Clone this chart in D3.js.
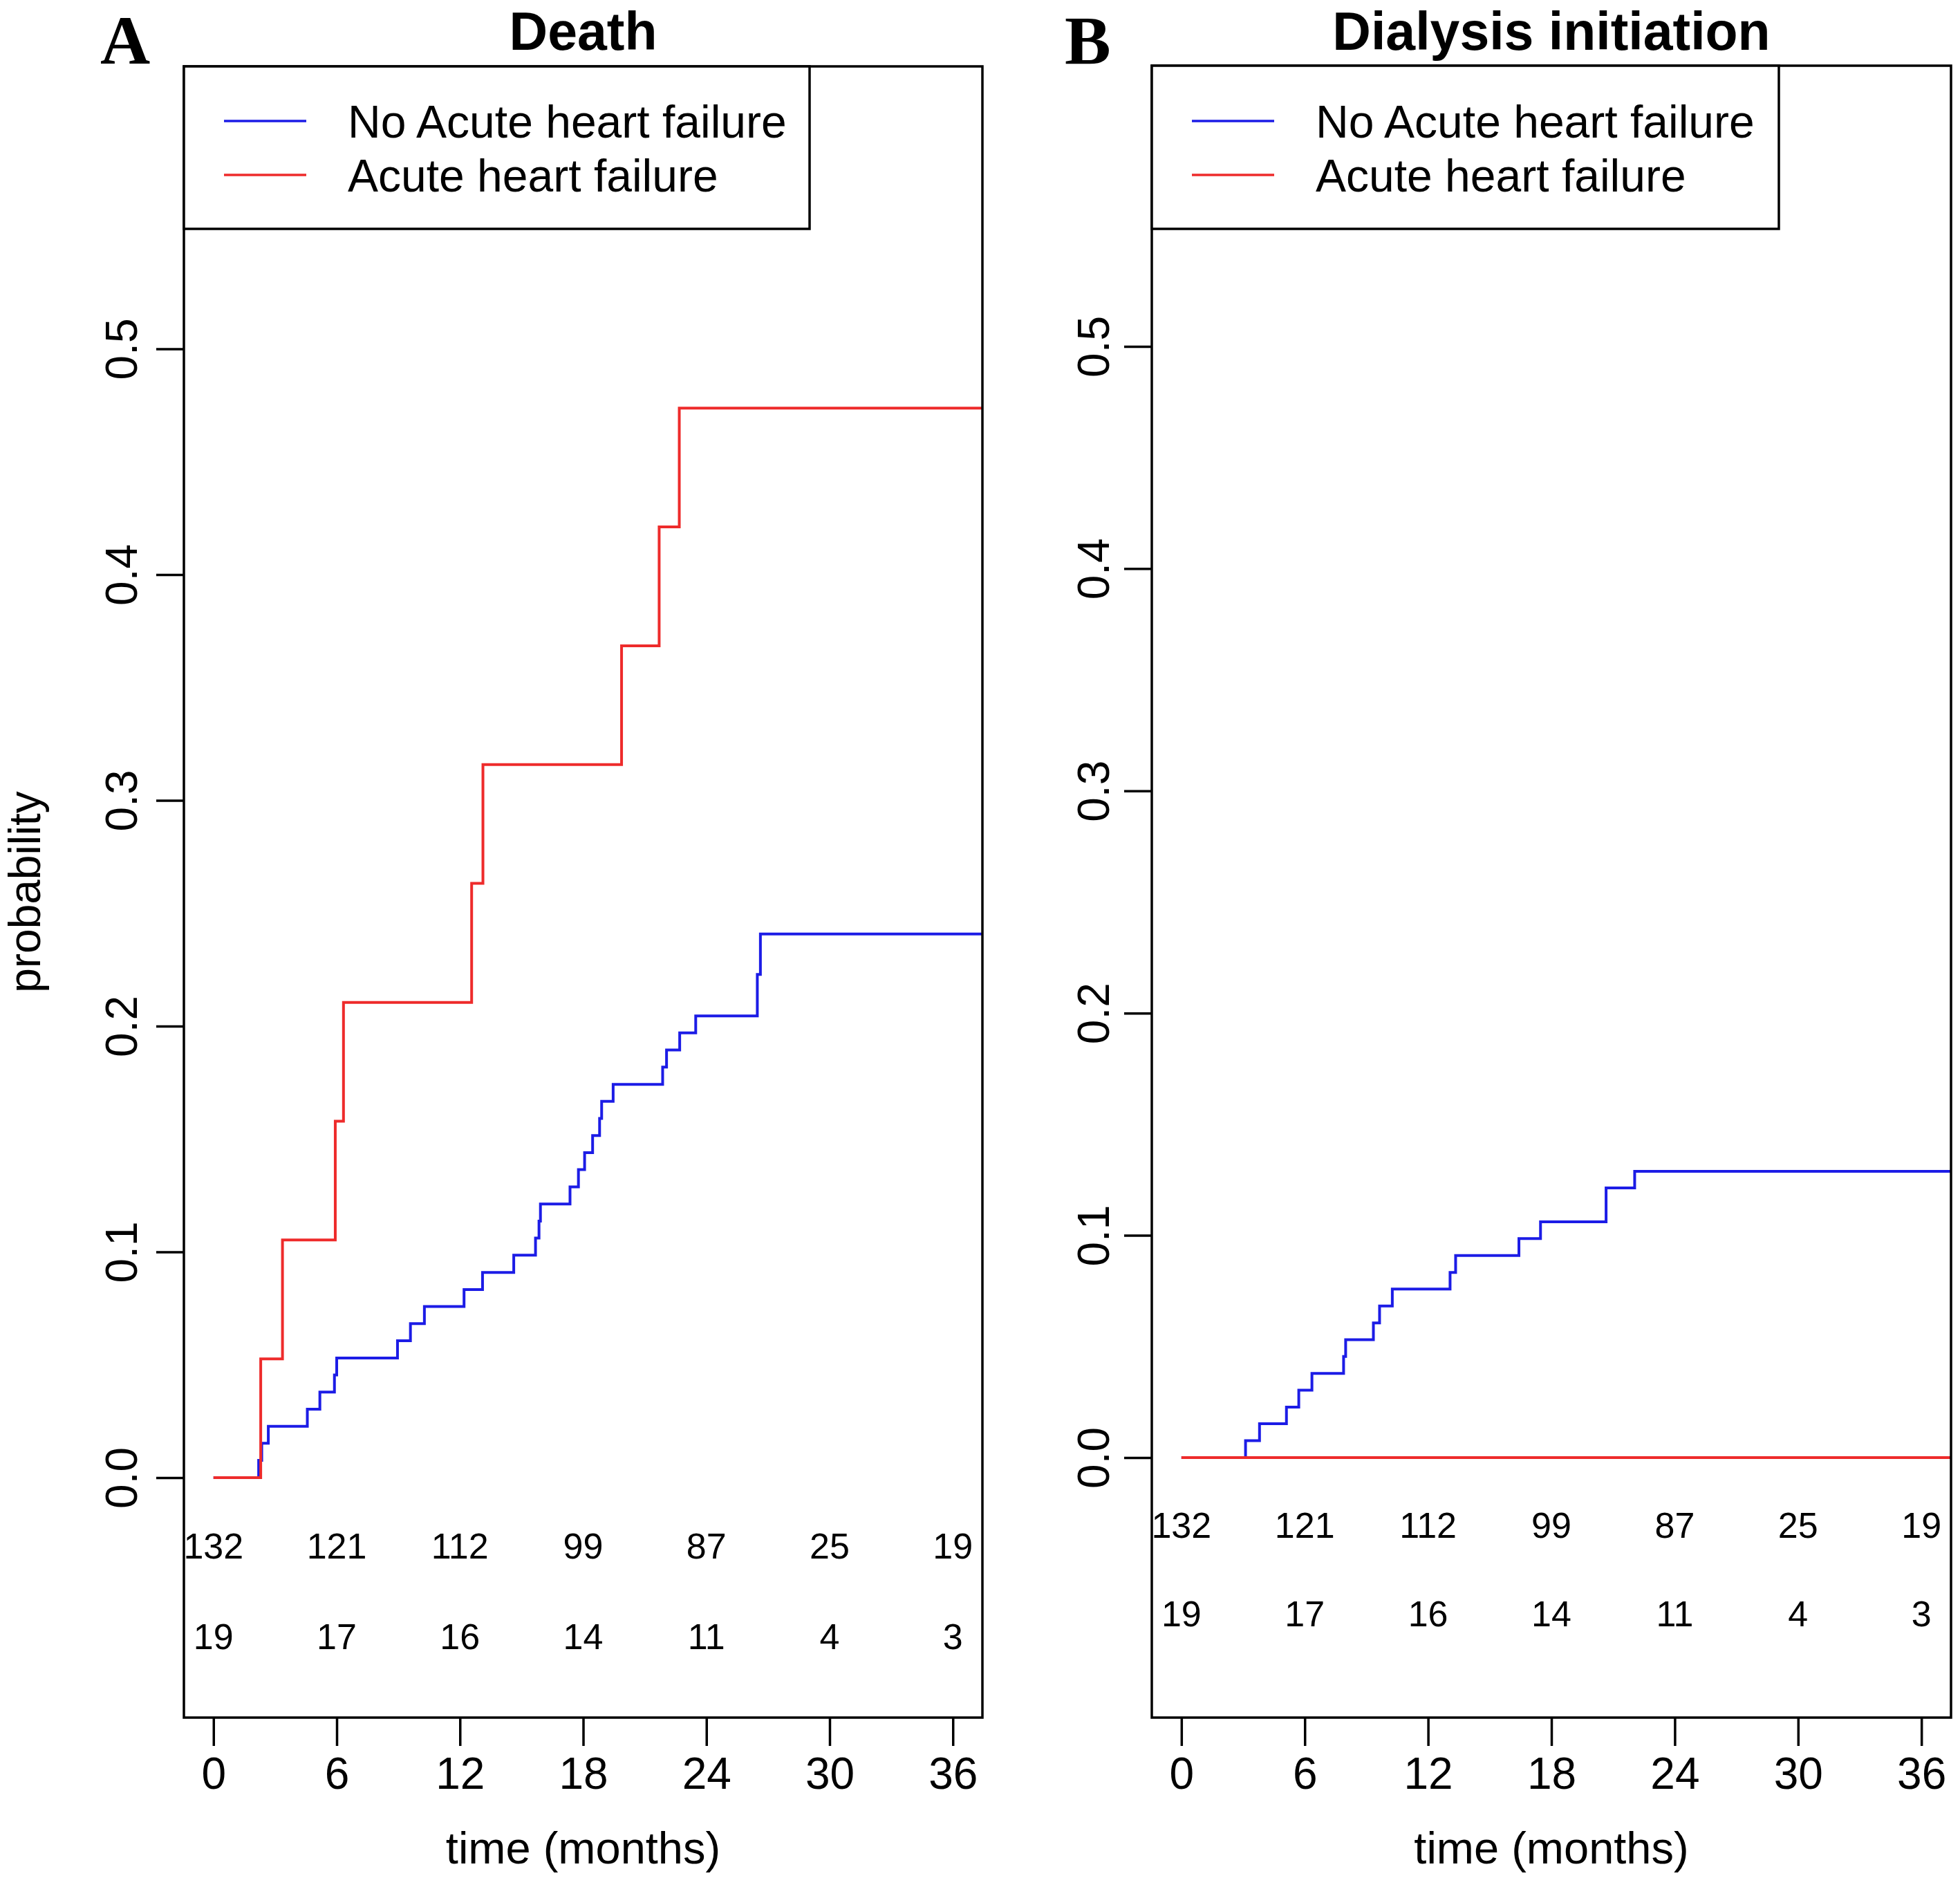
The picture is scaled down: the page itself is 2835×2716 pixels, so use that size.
<!DOCTYPE html>
<html>
<head>
<meta charset="utf-8">
<script src="https://cdn.jsdelivr.net/npm/d3@7"></script>
<style>
	body { margin: 0; background: #fff; }
	svg { display: block; }
	text { font-family: "Liberation Sans", Arial, sans-serif; fill: #000; }
</style>
</head>
<body>
<div id="chart"></div>
<script>
const month_ticks = [0, 6, 12, 18, 24, 30, 36]
const prob_ticks = [0, 0.1, 0.2, 0.3, 0.4, 0.5]
const group_names = ['No Acute heart failure', 'Acute heart failure']
const group_colors = ['#1c1ce6', '#ee2b2b']

// death, cumulative incidence after each step
const death_no_ahf_time = [2.2, 2.35, 2.67, 4.57, 5.18, 5.89, 6.0, 8.96, 9.59, 10.27, 12.2, 13.1, 14.62, 15.68, 15.85, 15.92, 17.36, 17.77, 18.07, 18.46, 18.8, 18.9, 19.46, 21.87, 22.06, 22.7, 23.48, 26.48, 26.63]
const death_no_ahf_prob = [0.0076, 0.0152, 0.0227, 0.0303, 0.0379, 0.0455, 0.053, 0.0606, 0.0682, 0.0758, 0.0833, 0.0909, 0.0985, 0.1061, 0.1136, 0.1212, 0.1288, 0.1364, 0.1439, 0.1515, 0.1591, 0.1667, 0.1742, 0.1818, 0.1894, 0.197, 0.2045, 0.2229, 0.2408]
const death_ahf_time = [2.3, 3.36, 5.93, 6.33, 12.57, 13.12, 19.87, 21.7, 22.68]
const death_ahf_prob = [0.0526, 0.1053, 0.1579, 0.2105, 0.2632, 0.3158, 0.3684, 0.4211, 0.4737]

// dialysis initiation
const dial_no_ahf_time = [3.12, 3.8, 5.11, 5.71, 6.35, 7.89, 7.99, 9.34, 9.64, 10.26, 13.07, 13.34, 16.42, 17.47, 20.66, 22.05]
const dial_no_ahf_prob = [0.0076, 0.0152, 0.0227, 0.0303, 0.0379, 0.0455, 0.053, 0.0606, 0.0682, 0.0758, 0.0833, 0.0909, 0.0985, 0.1061, 0.1213, 0.1288]
const dial_ahf_time = []
const dial_ahf_prob = []

// numbers at risk at each month tick
const risk_no_ahf = [132, 121, 112, 99, 87, 25, 19]
const risk_ahf = [19, 17, 16, 14, 11, 4, 3]

const panels = [
	{letter: 'A', title: 'Death', ylab: 'probability',
	 box: {left: 266, right: 1421, top: 96, bottom: 2484}, ydom: [-0.1063, 0.6251], label_gap: 68,
	 legend_right: 1171, letter_x: 145,
	 series: [[death_no_ahf_time, death_no_ahf_prob], [death_ahf_time, death_ahf_prob]]},
	{letter: 'B', title: 'Dialysis initiation', ylab: null,
	 box: {left: 1666, right: 2822, top: 95, bottom: 2484}, ydom: [-0.117, 0.6263], label_gap: 62,
	 legend_right: 2573, letter_x: 1540,
	 series: [[dial_no_ahf_time, dial_no_ahf_prob], [dial_ahf_time, dial_ahf_prob]]}
]
const risk_rows = [risk_no_ahf, risk_ahf]
const risk_row_y = [-0.036, -0.076]

const svg = d3.select('#chart').append('svg')
	.attr('width', 2835)
	.attr('height', 2716)

svg.append('rect').attr('width', 2835).attr('height', 2716).attr('fill', '#fff')

function draw_panel(p, idx) {
	const b = p.box
	const x = d3.scaleLinear().domain([-1.44, 37.44]).range([b.left, b.right])
	const y = d3.scaleLinear().domain(p.ydom).range([b.bottom, b.top])
	const g = svg.append('g')

	g.append('clipPath').attr('id', 'clip' + idx)
		.append('rect')
		.attr('x', b.left).attr('y', b.top)
		.attr('width', b.right - b.left).attr('height', b.bottom - b.top)

	// curves
	const line = d3.line()
		.x(d => x(d[0]))
		.y(d => y(d[1]))
		.curve(d3.curveStepAfter)
	p.series.forEach((s, i) => {
		const pts = [[0, 0]].concat(s[0].map((t, j) => [t, s[1][j]]))
		pts.push([x.domain()[1], pts[pts.length - 1][1]])
		g.append('path')
			.attr('d', line(pts))
			.attr('fill', 'none')
			.attr('stroke', group_colors[i])
			.attr('stroke-width', 4)
			.attr('clip-path', 'url(#clip' + idx + ')')
	})

	// numbers at risk
	risk_rows.forEach((row, r) => {
		g.selectAll(null)
			.data(row)
			.enter().append('text')
			.attr('x', (d, i) => x(month_ticks[i]))
			.attr('y', y(risk_row_y[r]))
			.attr('text-anchor', 'middle')
			.style('font-size', '52px')
			.text(d => d)
	})

	// axes
	const x_axis = d3.axisBottom(x)
		.tickValues(month_ticks)
		.tickSize(41)
		.tickSizeOuter(0)
		.tickPadding(17)
	const gx = g.append('g')
		.attr('transform', 'translate(0,' + b.bottom + ')')
		.call(x_axis)
	gx.select('.domain').remove()
	gx.selectAll('line').attr('stroke', '#000').attr('stroke-width', 3.5)
	gx.selectAll('text')
		.style('font-family', '"Liberation Sans", Arial, sans-serif')
		.style('font-size', '64px')
		.attr('fill', '#000')

	const y_axis = d3.axisLeft(y)
		.tickValues(prob_ticks)
		.tickFormat(d3.format('.1f'))
		.tickSize(40)
		.tickSizeOuter(0)
	const gy = g.append('g')
		.attr('transform', 'translate(' + b.left + ',0)')
		.call(y_axis)
	gy.select('.domain').remove()
	gy.selectAll('line').attr('stroke', '#000').attr('stroke-width', 3.5)
	gy.selectAll('text')
		.attr('x', null).attr('y', null).attr('dy', null)
		.attr('transform', 'translate(' + (-p.label_gap) + ',0) rotate(-90)')
		.attr('text-anchor', 'middle')
		.style('font-family', '"Liberation Sans", Arial, sans-serif')
		.style('font-size', '64px')
		.attr('fill', '#000')

	// box
	g.append('rect')
		.attr('x', b.left).attr('y', b.top)
		.attr('width', b.right - b.left).attr('height', b.bottom - b.top)
		.attr('fill', 'none')
		.attr('stroke', '#000')
		.attr('stroke-width', 3.5)

	// legend
	const lg = g.append('g')
	lg.append('rect')
		.attr('x', b.left).attr('y', b.top)
		.attr('width', p.legend_right - b.left).attr('height', 331 - b.top)
		.attr('fill', '#fff')
		.attr('stroke', '#000')
		.attr('stroke-width', 3.5)
	const items = lg.selectAll('.item')
		.data(group_names)
		.enter().append('g')
		.attr('transform', (d, i) => 'translate(' + b.left + ',' + (175 + i * 78) + ')')
	items.append('line')
		.attr('x1', 58).attr('x2', 177)
		.attr('stroke', (d, i) => group_colors[i])
		.attr('stroke-width', 3.5)
	items.append('text')
		.attr('x', 237)
		.attr('y', 24)
		.style('font-size', '66px')
		.text(d => d)

	// titles
	g.append('text')
		.attr('x', (b.left + b.right) / 2)
		.attr('y', 72)
		.attr('text-anchor', 'middle')
		.style('font-size', '77px')
		.style('font-weight', 'bold')
		.text(p.title)
	g.append('text')
		.attr('x', p.letter_x)
		.attr('y', 92)
		.style('font-family', '"Liberation Serif", "Times New Roman", serif')
		.style('font-size', '100px')
		.style('font-weight', 'bold')
		.text(p.letter)
	g.append('text')
		.attr('x', (b.left + b.right) / 2)
		.attr('y', 2695)
		.attr('text-anchor', 'middle')
		.style('font-size', '65px')
		.text('time (months)')
	if (p.ylab) {
		g.append('text')
			.attr('transform', 'translate(58,' + ((b.top + b.bottom) / 2) + ') rotate(-90)')
			.attr('text-anchor', 'middle')
			.style('font-size', '64px')
			.text(p.ylab)
	}
}

panels.forEach(draw_panel)
</script>
</body>
</html>
